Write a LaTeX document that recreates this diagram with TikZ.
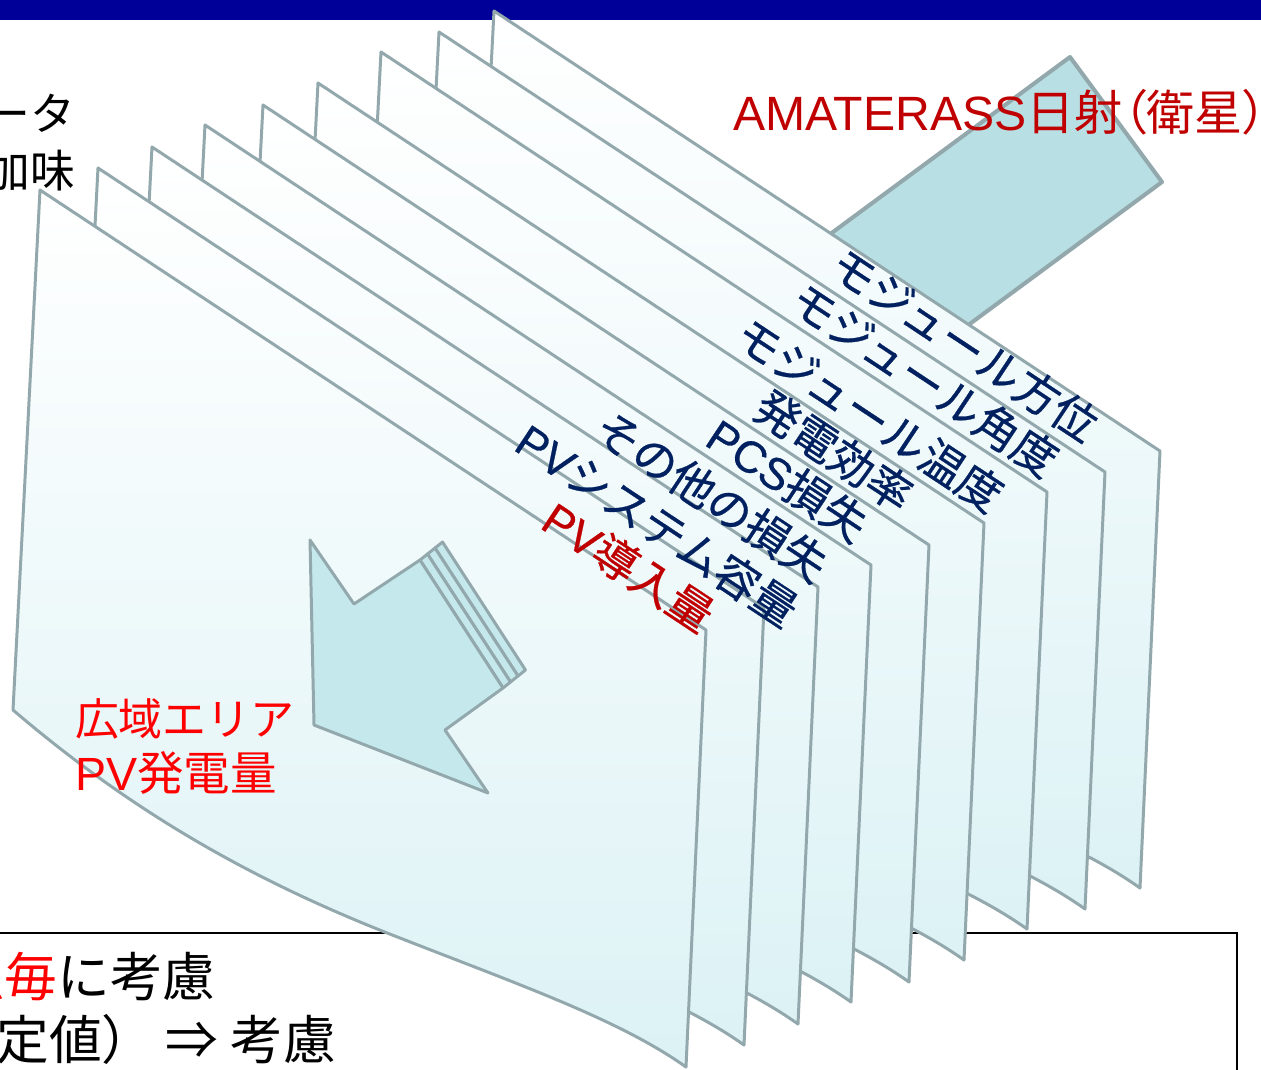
\documentclass[tikz,border=0pt]{standalone}
\usepackage{fontspec}
\setmainfont{Liberation Sans}
\newfontfamily\jp{Noto Sans CJK JP}
\newfontfamily\jpb{Noto Sans CJK JP}[FakeBold=0.6]
\newfontfamily\jpp{Noto Sans CJK JP}[RawFeature=+palt]
\newfontfamily\lat{Liberation Sans}
\newfontfamily\latb{Liberation Sans}[FakeBold=0.6]
\definecolor{barblue}{RGB}{0,0,153}
\definecolor{edgec}{RGB}{146,168,172}
\definecolor{sheetc}{RGB}{220,242,245}
\definecolor{beamc}{RGB}{184,223,227}
\definecolor{arrowc}{RGB}{196,232,236}
\definecolor{navy}{RGB}{0,32,96}
\definecolor{dred}{RGB}{192,0,0}
\tikzset{
  sheet/.style={draw=edgec, line width=1.7pt, line join=round, top color=white, bottom color=sheetc},
  beamst/.style={draw=edgec, line width=2.3pt, line join=round, fill=beamc},
  arrowst/.style={draw=edgec, line width=1.7pt, line join=round, fill=arrowc},
  lab/.style={inner sep=0pt, outer sep=0pt, text=navy, font=\fontsize{25.4pt}{29pt}\selectfont, rotate=-33.5, anchor=south east},
  labred/.style={lab, text=dred},
  plain/.style={inner sep=0pt, outer sep=0pt}
}
\begin{document}
\begin{tikzpicture}[x=0.02cm,y=-0.02cm]
\useasboundingbox (0,0) rectangle (1261,1069);
\clip (0,0) rectangle (1261,1069);
\fill[white] (0,0) rectangle (1261,1069);
% top bar
\fill[barblue] (0,0) rectangle (1261,20);
% bottom box
\draw[black, line width=1.1pt] (-20,933) rectangle (1237,1100);
% satellite beam
\draw[beamst] (1070,57) -- (1162,182) -- (688,532) -- (596,407) -- cycle;
% sheets back to front
\foreach \sx/\sy in {494/11, 439/32, 381/52, 318/83, 263/105, 205/125, 152/147, 98/168, 40/190}{
  \draw[sheet, shift={(\sx,\sy)}] (0,0) -- (666,440) -- (646,877)
     .. controls (580,830) and (480,795) .. (360,748)
     .. controls (210,690) and (90,620) .. (-27,520) -- cycle;
}
% labels
\node[lab] (l8) at (1082,447) {\jpb モジュール方位};
\node[lab] (l7) at (1042,482) {\jpb モジュール角度};
\node[lab] (l6) at (987,517) {\jpb モジュール温度};
\node[lab] (l5) at (897,517) {\jpb 発電効率};
\node[lab] (l4) at (852,547) {\latb PCS\jpb 損失};
\node[lab] (l3) at (812,587) {\jpb その他の損失};
\node[lab] (l2) at (782,632) {\latb PV\jpb システム容量};
\node[labred] (l1) at (698,637) {\latb PV\jpb 導入量};
% arrow tail strips
\foreach \k in {3,2,1}{
  \draw[arrowst, shift={(7.5*\k-7.5,-6*\k+6)}] (420,560) -- (503,688) -- (510.5,682) -- (427.5,554) -- cycle;
}
\draw[arrowst] (310,540) -- (354,604) -- (420,560) -- (503,688) -- (445,730) -- (488,793) -- (314,725) -- cycle;
% texts
\node[plain, anchor=base west, text=dred, font=\fontsize{27.4pt}{31pt}\selectfont] (amat) at (733,130) {\lat AMATERASS\jpp 日射（衛星）};
\node[plain, anchor=base west, text=red, font=\fontsize{25pt}{30pt}\selectfont] (kouiki) at (75,735) {\jp 広域エリア};
\node[plain, anchor=base west, text=red, font=\fontsize{26.5pt}{30pt}\selectfont] (pvgen) at (75,790) {\lat PV\jp 発電量};
\node[plain, anchor=base east, font=\fontsize{25.5pt}{30pt}\selectfont] (tl1) at (75,130) {\jp データ};
\node[plain, anchor=base east, font=\fontsize{25.5pt}{30pt}\selectfont] (tl2) at (75,187) {\jp 加味};
\node[plain, anchor=base west, font=\fontsize{30pt}{34pt}\selectfont] (bx1) at (-48,996) {\jp\textcolor{red}{点毎}に考慮};
\node[plain, anchor=base west, font=\fontsize{30pt}{34pt}\selectfont] (bx2) at (-109,1059) {\jp （固定値）\hspace{6pt}⇒\hspace{7.5pt}考慮};
\end{tikzpicture}
\end{document}
